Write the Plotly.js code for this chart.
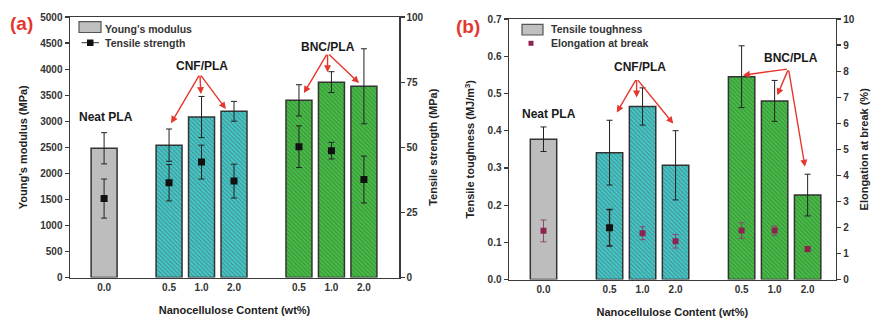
<!DOCTYPE html>
<html>
<head>
<meta charset="utf-8">
<script src="https://cdn.plot.ly/plotly-3.0.1.min.js"></script>
<style>html,body{margin:0;padding:0;background:#fff;}#chart{width:874px;height:320px;}</style>
</head>
<body>
<div id="chart"></div>
<script>
// ---------------- data ----------------
const groups = ['Neat PLA','CNF/PLA','CNF/PLA','CNF/PLA','BNC/PLA','BNC/PLA','BNC/PLA'];
const tickLabels = ['0.0','0.5','1.0','2.0','0.5','1.0','2.0'];
const youngsModulus = [2480, 2540, 3080, 3190, 3400, 3750, 3670];
const youngsModulusErr = [300, 310, 395, 190, 300, 200, 720];
const tensileStrength = [30.3, 36.4, 44.3, 37.0, 50.2, 48.7, 37.6];
const tensileStrengthErr = [7.5, 7.0, 6.5, 6.5, 8.0, 3.2, 9.0];
const toughness = [0.377, 0.341, 0.465, 0.307, 0.545, 0.480, 0.227];
const toughnessErr = [0.033, 0.087, 0.050, 0.093, 0.083, 0.055, 0.056];
const elongation = [1.87, 1.99, 1.78, 1.47, 1.88, 1.88, 1.17];
const elongationErr = [0.42, 0.70, 0.25, 0.26, 0.30, 0.18, 0.10];

// ---------------- layout helpers ----------------
// slot positions: one empty slot between material groups
const xPos = [];
(function(){ let p = 0; groups.forEach((g,i)=>{ if(i>0 && g!==groups[i-1]) p+=1; xPos.push(p); p+=1; }); })();

const W = 874, H = 320;
const px = v => v / W;
const py = v => 1 - v / H;

const groupFill = {'Neat PLA':'#bdbdbd','CNF/PLA':'#45c8c9','BNC/PLA':'#43c043'};
const groupHatch = {'Neat PLA':'#bdbdbd','CNF/PLA':'#2a9fa1','BNC/PLA':'#2b952b'};
const fills = groups.map(g=>groupFill[g]);
const hatches = groups.map(g=>groupHatch[g]);
const hatchShape = groups.map(g=> g==='Neat PLA' ? '' : '\\');
const elongBlackIdx = [1];   // the one point drawn in black in the reference

const FONT = 'Liberation Sans, Arial, sans-serif';
const AX = '#3a3a3a';
const RED = '#e6372f';
const MAROON = '#8c2450';

function barTrace(vals, errs, xa, ya){
  return {
    type:'bar', x:xPos, y:vals, xaxis:xa, yaxis:ya, width:0.8, showlegend:false,
    marker:{color:fills, line:{color:'#333', width:1.5},
            pattern:{shape:hatchShape, fgcolor:hatches, size:3, solidity:0.3, fillmode:'overlay'}},
    error_y:{type:'data', array:errs, visible:true, color:'#222', thickness:1, width:3},
    hoverinfo:'skip'
  };
}

const traces = [
  barTrace(youngsModulus, youngsModulusErr, 'x', 'y'),
  {type:'scatter', mode:'markers', x:xPos, y:tensileStrength, xaxis:'x', yaxis:'y2', showlegend:false,
   marker:{symbol:'square', size:7, color:'#111'},
   error_y:{type:'data', array:tensileStrengthErr, visible:true, color:'#222', thickness:1, width:3}},
  barTrace(toughness, toughnessErr, 'x2', 'y3'),
  {type:'scatter', mode:'markers',
   x:xPos.filter((_,i)=>!elongBlackIdx.includes(i)), y:elongation.filter((_,i)=>!elongBlackIdx.includes(i)),
   xaxis:'x2', yaxis:'y4', showlegend:false,
   marker:{symbol:'square', size:6, color:MAROON},
   error_y:{type:'data', array:elongationErr.filter((_,i)=>!elongBlackIdx.includes(i)), visible:true, color:'#8a4a6e', thickness:1, width:3}},
  {type:'scatter', mode:'markers',
   x:xPos.filter((_,i)=>elongBlackIdx.includes(i)), y:elongation.filter((_,i)=>elongBlackIdx.includes(i)),
   xaxis:'x2', yaxis:'y4', showlegend:false,
   marker:{symbol:'square', size:7, color:'#111'},
   error_y:{type:'data', array:elongationErr.filter((_,i)=>elongBlackIdx.includes(i)), visible:true, color:'#222', thickness:1.3, width:3}}
];

const tickFont = {family:FONT, size:10, color:'#333', weight:'bold'};
const titleFont = {family:FONT, size:11, color:'#222', weight:'bold'};

function xAxis(domain, range, anchor){
  return {domain, range, anchor, tickmode:'array', tickvals:xPos, ticktext:tickLabels,
    showline:true, linecolor:AX, linewidth:1.5, mirror:true, ticks:'', showgrid:false, zeroline:false,
    tickfont:tickFont, fixedrange:true,
    title:{text:'Nanocellulose Content (wt%)', font:titleFont, standoff:14}};
}
function yAxis(domain, range, dtick, anchor, side, title, standoff, overlaying){
  const a = {domain, range, dtick, anchor, side, showline:true, linecolor:AX, linewidth:1.5,
    ticks:'outside', ticklen:4, tickcolor:AX, tickwidth:1.2, showgrid:false, zeroline:false,
    tickfont:tickFont, title:{text:title, font:titleFont, standoff}};
  if (overlaying) a.overlaying = overlaying;
  return a;
}

const ydA = [py(277.5), py(17)];
const ydB = [py(279.6), py(19)];

const layout = {
  width:W, height:H, margin:{l:0,r:0,t:0,b:0}, paper_bgcolor:'#fff', plot_bgcolor:'#fff',
  font:{family:FONT}, showlegend:false,
  xaxis: xAxis([px(70), px(399)], [-1.05, 9.08], 'y'),
  yaxis: yAxis(ydA, [0,5000], 500, 'x', 'left', "Young's modulus (MPa)", 10),
  yaxis2: yAxis(ydA, [0,100], 25, 'x', 'right', 'Tensile strength (MPa)', 6, 'y'),
  xaxis2: xAxis([px(509), px(835.7)], [-1.045, 8.85], 'y3'),
  yaxis3: yAxis(ydB, [0,0.7], 0.1, 'x2', 'left', 'Tensile toughness (MJ/m<sup>3</sup>)', 10),
  yaxis4: yAxis(ydB, [0,10], 1, 'x2', 'right', 'Elongation at break (%)', 6, 'y3'),
  shapes:[], annotations:[]
};
layout.yaxis3.tickformat = '.1f';

// legends (drawn manually to match the reference look)
layout.shapes.push(
  {type:'rect', xref:'paper', yref:'paper', x0:px(79), x1:px(101), y0:py(21.7), y1:py(32.5), fillcolor:'#c0c0c0', line:{color:'#555', width:1.2}},
  {type:'line', xref:'paper', yref:'paper', x0:px(81.5), x1:px(99), y0:py(42.7), y1:py(42.7), line:{color:'#333', width:1}},
  {type:'rect', xref:'paper', yref:'paper', x0:px(87), x1:px(93.5), y0:py(39.5), y1:py(46), fillcolor:'#111', line:{width:0}},
  {type:'rect', xref:'paper', yref:'paper', x0:px(522), x1:px(543), y0:py(24.3), y1:py(35), fillcolor:'#c0c0c0', line:{color:'#555', width:1.2}},
  {type:'rect', xref:'paper', yref:'paper', x0:px(528.5), x1:px(533.5), y0:py(40.8), y1:py(45.8), fillcolor:MAROON, line:{width:0}}
);
function paperText(text, x, y, size, color, xanchor, weight){
  layout.annotations.push({xref:'paper', yref:'paper', x:px(x), y:py(y), text, showarrow:false,
    xanchor:xanchor||'left', yanchor:'middle', font:{family:FONT, size, color, weight:weight||'bold'}});
}
paperText("Young's modulus", 102.5, 29.5, 10.5, '#333');
paperText('Tensile strength', 102.5, 42.5, 10.5, '#333');
paperText('Tensile toughness', 549, 29.5, 10.5, '#333');
paperText('Elongation at break', 549, 43.3, 10.5, '#333');
paperText('(a)', 21.5, 23.5, 19, RED, 'center');
paperText('(b)', 468, 26.5, 19, RED, 'center');

// group labels and arrows
function label(text, x, y, xr, yr){
  layout.annotations.push({xref:xr, yref:yr, x, y, text, showarrow:false, xanchor:'center', yanchor:'middle',
    font:{family:FONT, size:12, color:'#1a1a1a', weight:'bold'}});
}
function arrow(x, y, ax, ay, xr, yr){
  layout.annotations.push({xref:xr, yref:yr, axref:xr, ayref:yr, x, y, ax, ay, text:'', showarrow:true,
    arrowhead:2, arrowsize:1, arrowwidth:1.4, arrowcolor:RED, standoff:0, startstandoff:0});
}
// panel (a)
label('Neat PLA', 0.06, 3078, 'x', 'y');
label('CNF/PLA', 3.02, 4057, 'x', 'y');
label('BNC/PLA', 6.88, 4421, 'x', 'y');
arrow(2.06, 2963, 2.95, 3903, 'x', 'y');
arrow(2.98, 3520, 2.95, 3903, 'x', 'y');
arrow(3.75, 3232, 2.95, 3903, 'x', 'y');
arrow(6.15, 3539, 6.88, 4306, 'x', 'y');
arrow(6.88, 3941, 6.88, 4306, 'x', 'y');
arrow(7.85, 3731, 6.88, 4306, 'x', 'y');
// panel (b)
label('Neat PLA', 0.175, 0.446, 'x2', 'y3');
label('CNF/PLA', 2.91, 0.571, 'x2', 'y3');
label('BNC/PLA', 7.49, 0.596, 'x2', 'y3');
arrow(2.22, 0.449, 2.82, 0.540, 'x2', 'y3');
arrow(2.82, 0.489, 2.82, 0.540, 'x2', 'y3');
arrow(3.93, 0.419, 2.82, 0.540, 'x2', 'y3');
arrow(6.04, 0.549, 7.42, 0.566, 'x2', 'y3');
arrow(7.08, 0.495, 7.42, 0.566, 'x2', 'y3');
arrow(7.92, 0.303, 7.42, 0.566, 'x2', 'y3');

Plotly.newPlot('chart', traces, layout, {staticPlot:true, displayModeBar:false});
</script>
</body>
</html>
